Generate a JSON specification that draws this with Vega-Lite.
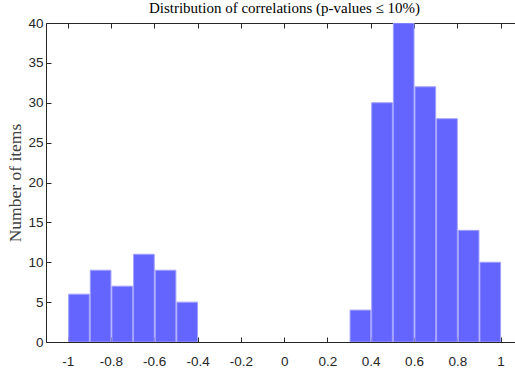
{
  "$schema": "https://vega.github.io/schema/vega-lite/v6.json",
  "autosize": "none",
  "padding": {"left": 46, "top": 23, "right": 0, "bottom": 34},
  "width": 469,
  "height": 319,
  "background": "white",
  "title": {
    "text": "Distribution of correlations (p-values ≤ 10%)",
    "font": "Liberation Serif",
    "fontSize": 15,
    "fontWeight": "normal",
    "color": "#000000",
    "anchor": "middle",
    "dx": 4,
    "offset": 0
  },
  "config": {
    "view": {"stroke": null},
    "axis": {
      "domainColor": "#262626",
      "tickColor": "#262626",
      "labelColor": "#262626",
      "labelFont": "Liberation Sans",
      "labelFontSize": 13.5,
      "grid": false,
      "tickSize": -5,
      "domainWidth": 1,
      "tickWidth": 1
    }
  },
  "data": {
    "values": [
      {"bin_start": -1.0, "bin_end": -0.9, "count": 6},
      {"bin_start": -0.9, "bin_end": -0.8, "count": 9},
      {"bin_start": -0.8, "bin_end": -0.7, "count": 7},
      {"bin_start": -0.7, "bin_end": -0.6, "count": 11},
      {"bin_start": -0.6, "bin_end": -0.5, "count": 9},
      {"bin_start": -0.5, "bin_end": -0.4, "count": 5},
      {"bin_start": 0.3, "bin_end": 0.4, "count": 4},
      {"bin_start": 0.4, "bin_end": 0.5, "count": 30},
      {"bin_start": 0.5, "bin_end": 0.6, "count": 40},
      {"bin_start": 0.6, "bin_end": 0.7, "count": 32},
      {"bin_start": 0.7, "bin_end": 0.8, "count": 28},
      {"bin_start": 0.8, "bin_end": 0.9, "count": 14},
      {"bin_start": 0.9, "bin_end": 1.0, "count": 10}
    ]
  },
  "layer": [
    {
      "mark": {"type": "bar", "color": "#6464FF", "stroke": "#A0A0FF", "strokeWidth": 1, "clip": true},
      "encoding": {
        "x": {
          "field": "bin_start",
          "type": "quantitative",
          "bin": "binned",
          "scale": {"domain": [-1.1, 1.0665], "nice": false, "zero": false},
          "axis": {
            "orient": "bottom",
            "title": null,
            "values": [-1, -0.8, -0.6, -0.4, -0.2, 0, 0.2, 0.4, 0.6, 0.8, 1],
            "labelExpr": "replace(format(datum.value, '~g'), '\u2212', '-')",
            "labelPadding": 17
          }
        },
        "x2": {"field": "bin_end"},
        "y": {
          "field": "count",
          "type": "quantitative",
          "scale": {"domain": [0, 40], "nice": false},
          "axis": {
            "title": "Number of items",
            "titleFont": "Liberation Serif",
            "titleFontSize": 17.5,
            "titleFontWeight": "normal",
            "titleColor": "#404040",
            "titlePadding": 3,
            "values": [0, 5, 10, 15, 20, 25, 30, 35, 40],
            "labelPadding": 8
          }
        }
      }
    },
    {
      "mark": {"type": "rule", "opacity": 0},
      "encoding": {
        "x": {
          "field": "bin_start",
          "type": "quantitative",
          "axis": {
            "orient": "top",
            "title": null,
            "labels": false,
            "values": [-1, -0.8, -0.6, -0.4, -0.2, 0, 0.2, 0.4, 0.6, 0.8, 1]
          }
        }
      }
    }
  ],
  "resolve": {"axis": {"x": "independent"}}
}
